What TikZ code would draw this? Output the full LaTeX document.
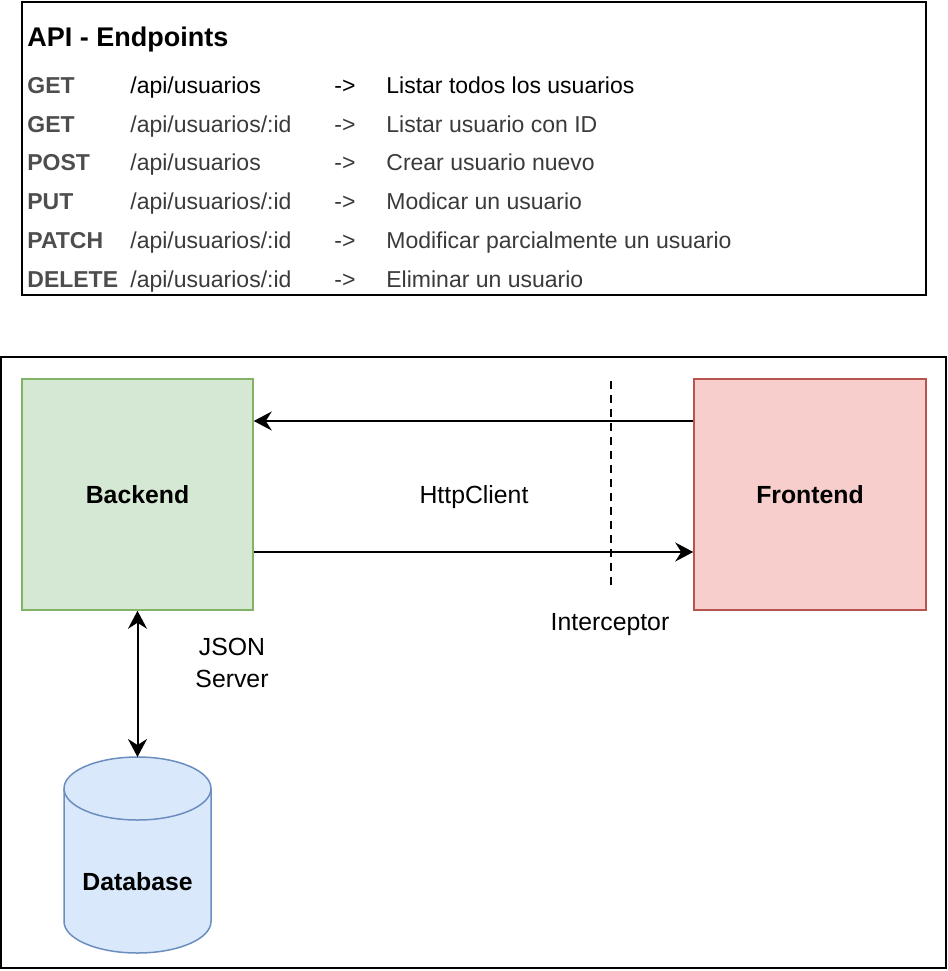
\documentclass[tikz,border=0pt]{standalone}
\usepackage{fontspec}
\setmainfont{Liberation Sans}
\usetikzlibrary{arrows.meta,positioning}
\definecolor{backfill}{HTML}{D5E8D4}
\definecolor{backline}{HTML}{82B366}
\definecolor{frontfill}{HTML}{F8CECC}
\definecolor{frontline}{HTML}{B85450}
\definecolor{dbfill}{HTML}{DAE8FC}
\definecolor{dbline}{HTML}{6C8EBF}
\definecolor{rowgray}{HTML}{3A3A3A}
\definecolor{methgray}{HTML}{4D4D4D}
\tikzset
{
    frame/.style    = {draw=black, line width=1pt},
    tabletext/.style = {anchor=base west, inner sep=0pt, text=rowgray, font=\fontsize{11.5}{14}\selectfont},
    method/.style   = {tabletext, text=methgray, font=\fontsize{11.5}{14}\selectfont\bfseries},
    box/.style      = {rectangle, minimum width=115.5pt, minimum height=115.5pt, line width=0.75pt, align=center, font=\fontsize{12.4}{15}\selectfont\bfseries},
    lbl/.style      = {anchor=base, inner sep=0pt, align=center, font=\fontsize{12.4}{16}\selectfont},
    link/.style     = {line width=1pt, -{Stealth[length=9pt, width=9.5pt, inset=3pt]}},
    cut/.style      = {line width=0.8pt, dash pattern=on 4pt off 3pt}
}

\begin{document}
\begin{tikzpicture}[x=0.5pt, y=0.5pt]
\useasboundingbox (0,0) rectangle (948,-971);
\newcommand\rowStep{38.8}
\newcommand\pathShift{103}
\newcommand\arrShift{307}
\newcommand\descShift{359}
% endpoint table
\draw[frame] (22,-2) rectangle (926,-295);
\node(title) [tabletext, text=black, font=\fontsize{13.5}{16}\selectfont\bfseries] at (27,-46) {API - Endpoints};
\node(m1) [method] at (27,-93.2) {GET};
\node(m2) [method] at ([shift=({0,-\rowStep})]m1.base west) {GET};
\node(m3) [method] at ([shift=({0,-\rowStep})]m2.base west) {POST};
\node(m4) [method] at ([shift=({0,-\rowStep})]m3.base west) {PUT};
\node(m5) [method] at ([shift=({0,-\rowStep})]m4.base west) {PATCH};
\node(m6) [method] at ([shift=({0,-\rowStep})]m5.base west) {DELETE};
\node(p1) [tabletext, text=black] at ([shift=({\pathShift,0})]m1.base west) {/api/usuarios};
\node(p2) [tabletext] at ([shift=({\pathShift,0})]m2.base west) {/api/usuarios/:id};
\node(p3) [tabletext] at ([shift=({\pathShift,0})]m3.base west) {/api/usuarios};
\node(p4) [tabletext] at ([shift=({\pathShift,0})]m4.base west) {/api/usuarios/:id};
\node(p5) [tabletext] at ([shift=({\pathShift,0})]m5.base west) {/api/usuarios/:id};
\node(p6) [tabletext] at ([shift=({\pathShift,0})]m6.base west) {/api/usuarios/:id};
\node(a1) [tabletext, text=black] at ([shift=({\arrShift,0})]m1.base west) {->};
\node(a2) [tabletext] at ([shift=({\arrShift,0})]m2.base west) {->};
\node(a3) [tabletext] at ([shift=({\arrShift,0})]m3.base west) {->};
\node(a4) [tabletext] at ([shift=({\arrShift,0})]m4.base west) {->};
\node(a5) [tabletext] at ([shift=({\arrShift,0})]m5.base west) {->};
\node(a6) [tabletext] at ([shift=({\arrShift,0})]m6.base west) {->};
\node(d1) [tabletext, text=black] at ([shift=({\descShift,0})]m1.base west) {Listar todos los usuarios};
\node(d2) [tabletext] at ([shift=({\descShift,0})]m2.base west) {Listar usuario con ID};
\node(d3) [tabletext] at ([shift=({\descShift,0})]m3.base west) {Crear usuario nuevo};
\node(d4) [tabletext] at ([shift=({\descShift,0})]m4.base west) {Modicar un usuario};
\node(d5) [tabletext] at ([shift=({\descShift,0})]m5.base west) {Modificar parcialmente un usuario};
\node(d6) [tabletext] at ([shift=({\descShift,0})]m6.base west) {Eliminar un usuario};
% architecture
\draw[frame] (1,-357) rectangle (946,-968);
\node(back) [box, fill=backfill, draw=backline] at (137.5,-494.5) {Backend};
\node(front) [box, fill=frontfill, draw=frontline, minimum width=116pt] at (810,-494.5) {Frontend};
\draw[link] ([shift=({0,73.5})]front.west) -- ([shift=({0,73.5})]back.east);
\draw[link] ([shift=({0,-57.5})]back.east) -- ([shift=({0,-57.5})]front.west);
\coordinate(icTop) at (611,-381);
\coordinate(icBot) at (611,-588);
\draw[cut] (icTop) -- (icBot);
\node(http) [lbl] at (474,-503) {HttpClient};
\node(icept) [lbl] at (610,-630) {Interceptor};
\node(json) [lbl, anchor=center] at (232,-663) {JSON\\Server};
% database cylinder
\filldraw[fill=dbfill, draw=dbline, line width=0.75pt] (64,-788.5) -- (64,-921.5)
    arc[start angle=180, end angle=360, x radius=36.75pt, y radius=15.75pt] -- (211,-788.5)
    arc[start angle=0, end angle=180, x radius=36.75pt, y radius=15.75pt] -- cycle;
\draw[dbline, line width=0.75pt] (64,-788.5) arc[start angle=180, end angle=360, x radius=36.75pt, y radius=15.75pt];
\node(db) [lbl, anchor=center, font=\fontsize{12.4}{15}\selectfont\bfseries] at (137.5,-882) {Database};
\coordinate(dbTop) at (137.5,-757);
\draw[link, {Stealth[length=9pt, width=9.5pt, inset=3pt]}-{Stealth[length=9pt, width=9.5pt, inset=3pt]}] (back.south) -- (dbTop);
\end{tikzpicture}
\end{document}
